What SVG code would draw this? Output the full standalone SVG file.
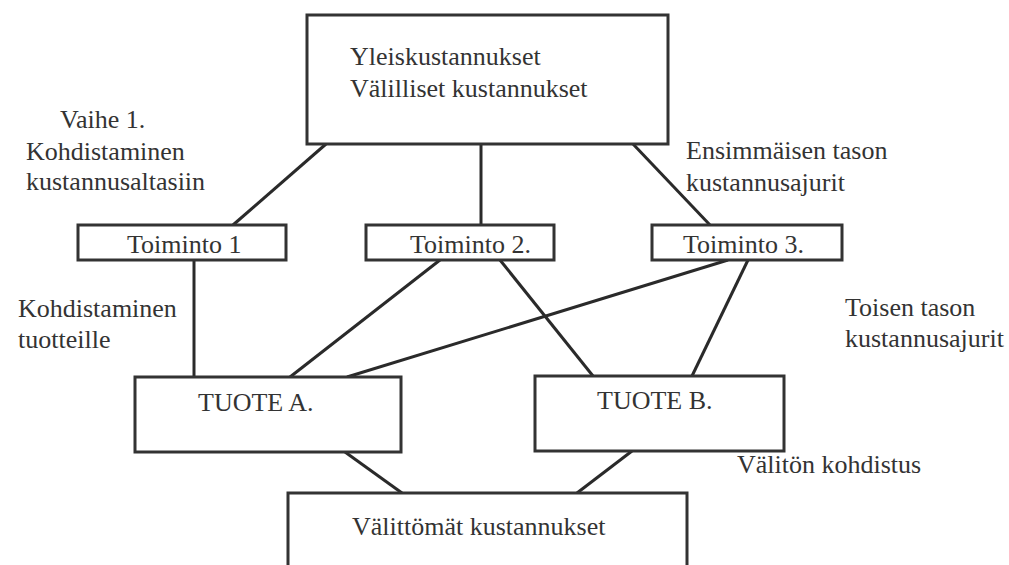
<svg xmlns="http://www.w3.org/2000/svg" width="1009" height="565" viewBox="0 0 1009 565">
<style>
.box{fill:#fff;stroke:#333;stroke-width:3}
.ln{stroke:#2a2a2a;stroke-width:3;fill:none}
.t{font-family:'Liberation Serif','Times New Roman',Times,serif;font-size:26px;fill:#333}
</style>
<rect width="1009" height="565" fill="#fff"/>
<g id="connectors">
<line class="ln" x1="326" y1="144" x2="233" y2="225"/>
<line class="ln" x1="481" y1="144" x2="481" y2="225"/>
<line class="ln" x1="633" y1="144" x2="710" y2="225"/>
<line class="ln" x1="194" y1="260" x2="194" y2="377"/>
<line class="ln" x1="440" y1="260" x2="290" y2="377"/>
<line class="ln" x1="500" y1="260" x2="593" y2="376"/>
<line class="ln" x1="728" y1="260" x2="347" y2="377"/>
<line class="ln" x1="748" y1="260" x2="692" y2="376"/>
<line class="ln" x1="345" y1="452" x2="402" y2="493"/>
<line class="ln" x1="632" y1="451" x2="577" y2="493"/>
</g>
<g class="t" font-family="Liberation Serif, Times New Roman, serif">
<g id="top">
<rect class="box" x="307" y="15" width="361" height="129"/>
<text x="350" y="65">Yleiskustannukset</text>
<text x="350" y="97">Välilliset kustannukset</text>
</g>
<g id="toiminto1">
<rect class="box" x="78" y="225" width="208" height="35"/>
<text x="127" y="253">Toiminto 1</text>
</g>
<g id="toiminto2">
<rect class="box" x="366" y="225" width="188" height="35"/>
<text x="410" y="253">Toiminto 2.</text>
</g>
<g id="toiminto3">
<rect class="box" x="652" y="225" width="190" height="35"/>
<text x="683" y="253">Toiminto 3.</text>
</g>
<g id="tuoteA">
<rect class="box" x="135" y="377" width="266" height="75"/>
<text x="198" y="411">TUOTE A.</text>
</g>
<g id="tuoteB">
<rect class="box" x="535" y="376" width="249" height="75"/>
<text x="597" y="409">TUOTE B.</text>
</g>
<g id="valittomat">
<rect class="box" x="288" y="493" width="399" height="100"/>
<text x="352" y="535">Välittömät kustannukset</text>
</g>
<g id="labels">
<text x="60" y="128">Vaihe 1.</text>
<text x="26" y="160">Kohdistaminen</text>
<text x="26" y="190">kustannusaltasiin</text>
<text x="686" y="159">Ensimmäisen tason</text>
<text x="686" y="191">kustannusajurit</text>
<text x="18" y="317">Kohdistaminen</text>
<text x="18" y="348">tuotteille</text>
<text x="845" y="316">Toisen tason</text>
<text x="845" y="347">kustannusajurit</text>
<text x="737" y="473">Välitön kohdistus</text>
</g>
</g>
</svg>
